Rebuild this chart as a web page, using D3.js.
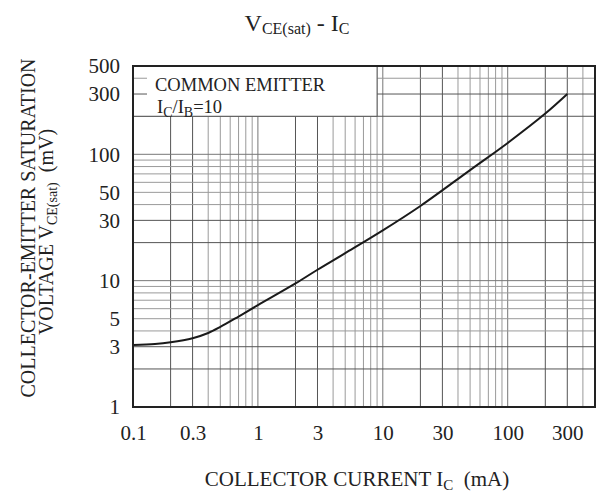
<!DOCTYPE html>
<html>
<head>
<meta charset="utf-8">
<script src="https://cdn.jsdelivr.net/npm/d3@7/dist/d3.min.js"></script>
<style>
  html, body { margin: 0; padding: 0; background: #fff; }
  svg { display: block; }
  svg text { font-family: "Liberation Serif", Tinos, "Nimbus Roman", "Times New Roman", Times, "DejaVu Serif", serif !important; fill: #222; }
</style>
</head>
<body>
<svg id="chart" width="603" height="495"></svg>
<script>
// ---- data (collector current in mA, saturation voltage in mV) ----
const currentMA = [0.1, 0.15, 0.2, 0.3, 0.4, 0.5, 0.7, 1, 2, 3, 5, 10, 20, 50, 100, 200, 300];
const vceSatMV  = [3.1, 3.15, 3.25, 3.5, 3.85, 4.3, 5.2, 6.4, 9.5, 12.2, 16.5, 25, 39, 75, 123, 210, 300];
const xTickValues = [0.1, 0.3, 1, 3, 10, 30, 100, 300];
const xTickLabels = ["0.1", "0.3", "1", "3", "10", "30", "100", "300"];
const yTickValues = [1, 3, 5, 10, 30, 50, 100, 300, 500];
const yTickLabels = ["1", "3", "5", "10", "30", "50", "100", "300", "500"];
const xDomain = [0.1, 500];
const yDomain = [1, 500];

const svg = d3.select("#chart");
const L = 133, R = 595, T = 66, B = 407;
const x = d3.scaleLog().domain(xDomain).range([L, R]);
const y = d3.scaleLog().domain(yDomain).range([B, T]);

function gridVals(dom) {
  const out = [];
  for (let e = -3; e <= 4; e++) {
    for (let k = 1; k <= 9; k++) {
      const v = +(k * Math.pow(10, e)).toPrecision(6);
      if (v > dom[0] * 1.0001 && v < dom[1] * 0.9999) out.push({v, k});
    }
  }
  return out;
}
function gridColor(k) { return (k === 2 || k === 3) ? "#555" : (k === 1 ? "#777" : "#9a9a9a"); }

const grid = svg.append("g");
grid.selectAll("line.vx").data(gridVals(xDomain)).join("line")
  .attr("x1", d => x(d.v)).attr("x2", d => x(d.v))
  .attr("y1", T).attr("y2", B)
  .attr("stroke", d => gridColor(d.k)).attr("stroke-width", 1);
grid.selectAll("line.hy").data(gridVals(yDomain)).join("line")
  .attr("y1", d => y(d.v)).attr("y2", d => y(d.v))
  .attr("x1", L).attr("x2", R)
  .attr("stroke", d => gridColor(d.k)).attr("stroke-width", 1);

// legend box (covers grid)
const boxX2 = x(9), boxY2 = y(200);
svg.append("rect").attr("x", L).attr("y", T).attr("width", boxX2 - L).attr("height", boxY2 - T)
  .attr("fill", "#fff");
svg.append("line").attr("x1", boxX2).attr("x2", boxX2).attr("y1", T).attr("y2", boxY2)
  .attr("stroke", "#555").attr("stroke-width", 1);
svg.append("line").attr("x1", L).attr("x2", boxX2).attr("y1", boxY2).attr("y2", boxY2)
  .attr("stroke", "#555").attr("stroke-width", 1);
[300, 400].forEach(v => {
  svg.append("line").attr("x1", L).attr("x2", L + 14).attr("y1", y(v)).attr("y2", y(v))
    .attr("stroke", v === 300 ? "#555" : "#9a9a9a").attr("stroke-width", 1);
});

const lg = svg.append("g").style("font-size", "18.5px");
lg.append("text").attr("x", 155).attr("y", 91).text("COMMON EMITTER");
const lt = lg.append("text").attr("x", 157).attr("y", 113);
lt.append("tspan").text("I");
lt.append("tspan").attr("dy", 4).style("font-size", "14px").text("C");
lt.append("tspan").attr("dy", -4).text("/I");
lt.append("tspan").attr("dy", 4).style("font-size", "14px").text("B");
lt.append("tspan").attr("dy", -4).text("=10");

// curve
const pts = currentMA.map((c, i) => [c, vceSatMV[i]]);
svg.append("path").datum(pts)
  .attr("fill", "none").attr("stroke", "#1a1a1a").attr("stroke-width", 2)
  .attr("d", d3.line().x(d => x(d[0])).y(d => y(d[1])).curve(d3.curveCatmullRom.alpha(0.5)));

// frame
svg.append("rect").attr("x", L).attr("y", T).attr("width", R - L).attr("height", B - T)
  .attr("fill", "none").attr("stroke", "#222").attr("stroke-width", 2);

// axes (labels only)
const xAxis = d3.axisBottom(x).tickValues(xTickValues).tickSize(0)
  .tickFormat((d, i) => xTickLabels[i]);
const gx = svg.append("g").attr("transform", `translate(0,${B})`).call(xAxis)
  .attr("font-family", null);
gx.select(".domain").remove();
gx.selectAll("text").attr("y", 33).attr("dy", 0)
  .style("font-size", "21px").attr("fill", "#222");

const yAxis = d3.axisLeft(y).tickValues(yTickValues).tickSize(0)
  .tickFormat((d, i) => yTickLabels[i]);
const gy = svg.append("g").attr("transform", `translate(${L},0)`).call(yAxis)
  .attr("font-family", null);
gy.select(".domain").remove();
gy.selectAll("text").attr("x", -13).attr("dy", "0.33em")
  .style("font-size", "21px").attr("fill", "#222");

// title
const tt = svg.append("text").attr("x", 297).attr("y", 31).attr("text-anchor", "middle")
  .style("font-size", "24px");
tt.append("tspan").text("V");
tt.append("tspan").attr("dy", 3).style("font-size", "16px").text("CE(sat)");
tt.append("tspan").attr("dy", -3).text(" - I");
tt.append("tspan").attr("dy", 3).style("font-size", "16px").text("C");

// x axis title
const xt = svg.append("text").attr("x", 357).attr("y", 486).attr("text-anchor", "middle")
  .attr("xml:space", "preserve").style("font-size", "21px");
xt.append("tspan").text("COLLECTOR CURRENT I");
xt.append("tspan").attr("dy", 4).style("font-size", "15px").text("C");
xt.append("tspan").attr("dy", -4).text("  (mA)");

// y axis title
svg.append("text").attr("transform", "translate(35,228) rotate(-90)")
  .attr("text-anchor", "middle").style("font-size", "20px")
  .text("COLLECTOR-EMITTER SATURATION");
const yt2 = svg.append("text").attr("transform", "translate(53,232) rotate(-90)")
  .attr("text-anchor", "middle").style("font-size", "20px").attr("xml:space", "preserve");
yt2.append("tspan").text("VOLTAGE V");
yt2.append("tspan").attr("dy", 4).style("font-size", "14px").text("CE(sat)");
yt2.append("tspan").attr("dy", -4).text("  (mV)");
</script>
</body>
</html>
